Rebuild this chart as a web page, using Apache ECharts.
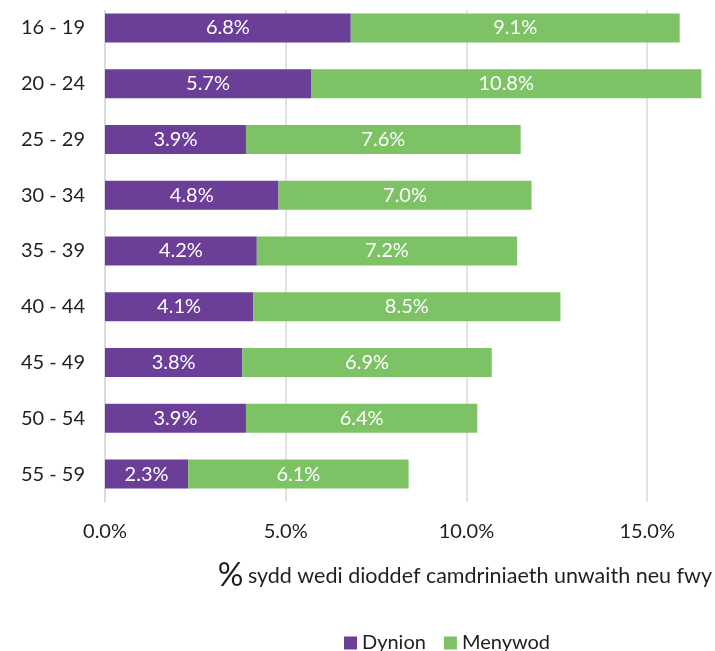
<!DOCTYPE html>
<html>
<head>
<meta charset="utf-8">
<script src="https://cdn.jsdelivr.net/npm/echarts@6/dist/echarts.min.js"></script>
<style>html,body{margin:0;padding:0;background:#fff;}#c{width:715px;height:651px;}</style>
</head>
<body>
<div id="c"></div>
<script>
const categories = ['16 - 19','20 - 24','25 - 29','30 - 34','35 - 39','40 - 44','45 - 49','50 - 54','55 - 59'];
const dynion = [6.8, 5.7, 3.9, 4.8, 4.2, 4.1, 3.8, 3.9, 2.3];
const menywod = [9.1, 10.8, 7.6, 7.0, 7.2, 8.5, 6.9, 6.4, 6.1];
const seriesNames = ['Dynion', 'Menywod'];
const axisTitle = 'sydd wedi dioddef camdriniaeth unwaith neu fwy';

const FONT = 'Lato';
const TXT = '#1f1f1f';
const chart = echarts.init(document.getElementById('c'), null, {renderer: 'canvas'});
const lbl = {
  show: true, position: 'inside', color: '#fff', fontFamily: FONT, fontSize: 20,
  formatter: p => p.value.toFixed(1) + '%'
};
chart.setOption({
  animation: false,
  textStyle: {fontFamily: FONT},
  title: {
    text: '{big|%} {small|' + axisTitle + '}',
    right: 3, top: 560, padding: 0,
    textStyle: {
      fontWeight: 'normal',
      rich: {
        big: {fontFamily: FONT, fontSize: 32, fontWeight: 'normal', color: TXT},
        small: {fontFamily: FONT, fontSize: 21.5, fontWeight: 'normal', color: TXT}
      }
    }
  },
  legend: {
    data: seriesNames,
    left: 339, top: 628,
    icon: 'rect', itemWidth: 13, itemHeight: 13, itemGap: 18,
    textStyle: {fontFamily: FONT, fontSize: 20, color: TXT}
  },
  graphic: [{
    type: 'rect', z: 1, silent: true,
    shape: {x: 104, y: -5, width: 611, height: 15},
    style: {fill: '#fff'}
  }],
  grid: {left: 105, right: 10, top: -2, height: 504, containLabel: false},
  xAxis: {
    type: 'value', min: 0, max: 16.6, interval: 5,
    axisLine: {show: false}, axisTick: {show: false},
    splitLine: {show: true, showMinLine: true, showMaxLine: false, lineStyle: {color: '#d9d9d9', width: 1.5}},
    axisLabel: {
      margin: 20, fontFamily: FONT, fontSize: 20, color: TXT,
      showMaxLabel: false,
      formatter: v => (v % 5 === 0 ? v.toFixed(1) + '%' : '')
    }
  },
  yAxis: {
    type: 'category', data: categories, inverse: true,
    axisLine: {show: true, lineStyle: {color: '#d9d9d9', width: 1.5}},
    axisTick: {show: false},
    axisLabel: {margin: 20, fontFamily: FONT, fontSize: 20, color: TXT}
  },
  series: [
    {name: seriesNames[0], type: 'bar', stack: 's', data: dynion, barWidth: '52%',
     itemStyle: {color: '#6B3F98'}, label: lbl},
    {name: seriesNames[1], type: 'bar', stack: 's', data: menywod, barWidth: '52%',
     itemStyle: {color: '#7DC365'}, label: lbl}
  ]
});
</script>
</body>
</html>
